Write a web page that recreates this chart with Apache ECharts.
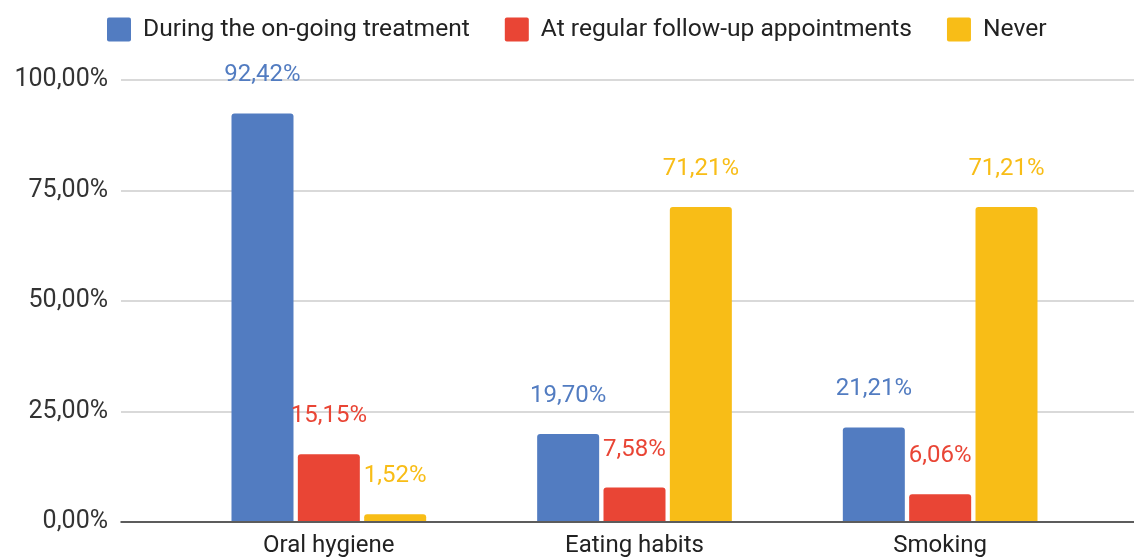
<!DOCTYPE html>
<html>
<head>
<meta charset="utf-8">
<script src="https://cdn.jsdelivr.net/npm/echarts@6/dist/echarts.min.js"></script>
<style>
html,body{margin:0;padding:0;background:#fff;}
#chart{width:1134px;height:558px;}
</style>
</head>
<body>
<div id="chart"></div>
<script>
const categories = ['Oral hygiene', 'Eating habits', 'Smoking'];
const seriesNames = ['During the on-going treatment', 'At regular follow-up appointments', 'Never'];
const duringTreatment = [92.42, 19.70, 21.21];
const followUp = [15.15, 7.58, 6.06];
const never = [1.52, 71.21, 71.21];
const yTicks = [0, 25, 50, 75, 100];
const colors = ['#527cc1', '#e94535', '#f8bd17'];

const fmt = v => v.toFixed(2).replace('.', ',') + '%';
const font = 'Roboto';

const chart = echarts.init(document.getElementById('chart'), null, {renderer: 'canvas'});

function bar(name, data, color) {
  return {
    name: name, type: 'bar', xAxisIndex: 1, yAxisIndex: 1,
    data: data, barWidth: 62, barGap: '7%',
    itemStyle: {color: color, borderRadius: [3, 3, 0, 0]},
    label: {show: true, position: 'top', distance: 26, color: color,
      fontFamily: font, fontSize: 24, formatter: p => fmt(p.value)}
  };
}

chart.setOption({
  animation: false,
  color: colors,
  legend: {
    top: 12, left: 102, itemWidth: 24, itemHeight: 24, itemGap: 35,
    icon: 'path://M2,0 L22,0 Q24,0 24,2 L24,22 Q24,24 22,24 L2,24 Q0,24 0,22 L0,2 Q0,0 2,0 Z',
    textStyle: {fontFamily: font, fontSize: 24.6, color: '#222', padding: [0, 0, 0, 7]},
    data: seriesNames
  },
  grid: [
    {left: 121, right: 0, top: 80, bottom: 36},
    {left: 176, right: 41, top: 80, bottom: 36}
  ],
  xAxis: [
    {gridIndex: 0, type: 'category', data: ['a'], axisLine: {show: true, lineStyle: {color: '#333', width: 1.5}},
     axisTick: {show: false}, axisLabel: {show: false}},
    {gridIndex: 1, type: 'category', data: categories, axisLine: {show: false}, axisTick: {show: false},
     axisLabel: {fontFamily: font, fontSize: 24, color: '#222', margin: 13}}
  ],
  yAxis: [
    {gridIndex: 0, type: 'value', min: yTicks[0], max: yTicks[yTicks.length - 1], interval: 25,
     axisLabel: {formatter: v => fmt(v), fontFamily: font, fontSize: 25, color: '#333', margin: 13},
     splitLine: {lineStyle: {color: '#cccccc', width: 1.5}}, axisLine: {show: false}, axisTick: {show: false}},
    {gridIndex: 1, type: 'value', min: 0, max: 100, interval: 25, show: false, splitLine: {show: false}}
  ],
  series: [
    bar(seriesNames[0], duringTreatment, colors[0]),
    bar(seriesNames[1], followUp, colors[1]),
    bar(seriesNames[2], never, colors[2])
  ]
});
</script>
</body>
</html>
